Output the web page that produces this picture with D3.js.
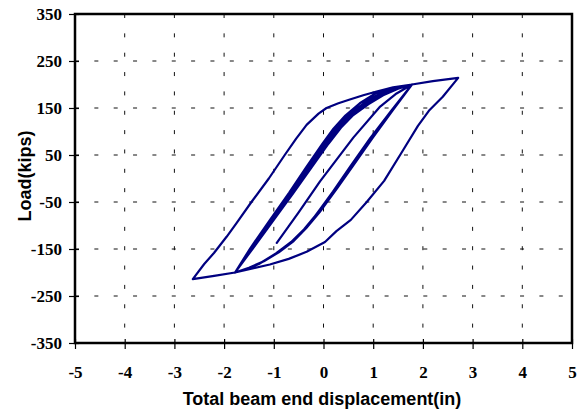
<!DOCTYPE html>
<html>
<head>
<meta charset="utf-8">
<script src="https://cdn.jsdelivr.net/npm/d3@7"></script>
<style>
  html, body { margin: 0; padding: 0; background: #fff; }
  svg { display: block; }
  .tick-label { font-family: 'Liberation Serif', 'Times New Roman', serif; font-weight: bold; font-size: 17px; fill: #000; }
  .axis-title { font-family: 'Liberation Sans', Arial, sans-serif; font-weight: bold; font-size: 18px; fill: #000; }
</style>
</head>
<body>
<svg id="chart" width="583" height="412"></svg>
<script>
// Axis ticks
const xTicks = [-5, -4, -3, -2, -1, 0, 1, 2, 3, 4, 5];
const yTicks = [-350, -250, -150, -50, 50, 150, 250, 350];

// Load–displacement record, [displacement (in), load (kips)]
// Three cycles at about ±1.8 in
const cycle1Load = [[-1.78,-200],[-1.4,-146],[-1.0,-88],[-0.6,-30],[-0.25,22],[0.1,74],[0.35,108],[0.6,135],[0.9,158],[1.2,177],[1.5,191],[1.78,200]];
const cycle1Unload = [[1.78,200],[1.4,146],[1.0,88],[0.6,28],[0.28,-20],[-0.08,-72],[-0.35,-106],[-0.6,-133],[-0.9,-157],[-1.2,-176],[-1.5,-190],[-1.78,-200]];
const cycle2Load = [[-1.78,-200],[-1.44,-146],[-1.05,-88],[-0.65,-30],[-0.31,22],[0.03,74],[0.27,108],[0.51,136],[0.81,160],[1.12,180],[1.45,193],[1.78,200]];
const cycle2Unload = [[1.78,200],[1.38,144],[0.97,86],[0.56,26],[0.23,-23],[-0.11,-72],[-0.39,-108],[-0.65,-135],[-0.96,-160],[-1.26,-179],[-1.52,-192],[-1.78,-200]];
const cycle3Load = [[-1.78,-200],[-1.47,-148],[-1.09,-90],[-0.69,-30],[-0.36,22],[-0.02,74],[0.2,106],[0.44,134],[0.73,160],[1.06,182],[1.42,194],[1.78,200]];
const cycle3Unload = [[1.78,200],[1.36,144],[0.94,86],[0.54,26],[0.19,-28],[-0.06,-64],[-0.31,-100],[-0.6,-131],[-0.95,-159],[-1.3,-182],[-1.55,-193],[-1.78,-200]];
// Large cycle to about ±2.7 in
const bigCycle = [[-1.78,-200],[-2.2,-207],[-2.63,-214],[-2.4,-182],[-2.2,-158],[-1.95,-124],[-1.75,-95],[-1.45,-50],[-1.1,0],[-0.78,50],[-0.55,85],[-0.34,114],[-0.1,138],[0.06,150],[0.3,160],[0.53,168],[0.8,177],[1.07,185],[1.4,194],[1.78,200],[2.2,207],[2.71,214],[2.4,174],[2.12,144],[1.9,112],[1.6,60],[1.22,-5],[0.87,-50],[0.55,-88],[0.26,-112],[0.03,-135],[-0.34,-156],[-0.7,-171],[-1.08,-183],[-1.45,-192],[-1.78,-200]];
// Last reload and unload
const finalLoad = [[-1.78,-200],[-1.42,-147],[-1.02,-89],[-0.62,-30],[-0.27,22],[0.07,74],[0.31,108],[0.56,136],[0.86,159],[1.16,178],[1.48,192],[1.78,200]];
const finalUnload = [[1.78,200],[1.47,181],[1.14,153],[0.6,87],[-0.07,-6],[-0.5,-72],[-0.94,-137]];

const record = [].concat(cycle1Load, cycle1Unload, cycle2Load, cycle2Unload,
  cycle3Load, cycle3Unload, bigCycle, finalLoad, finalUnload);

const svg = d3.select('#chart');
const plot = { left: 75, right: 572, top: 14, bottom: 343 };

const x = d3.scaleLinear().domain([-5, 5]).range([plot.left, plot.right]);
const y = d3.scaleLinear().domain([-350, 350]).range([plot.bottom, plot.top]);

svg.append('rect').attr('width', 583).attr('height', 412).attr('fill', '#fff');

// Dashed grid
const grid = svg.append('g').attr('stroke', '#111').attr('stroke-width', 1);
grid.selectAll('line.v').data(xTicks.slice(1, -1)).join('line')
  .attr('class', 'v')
  .attr('x1', d => x(d)).attr('x2', d => x(d))
  .attr('y1', plot.top).attr('y2', plot.bottom)
  .attr('stroke-dasharray', '4,15.35');
grid.selectAll('line.h').data(yTicks.slice(1, -1)).join('line')
  .attr('class', 'h')
  .attr('y1', d => y(d)).attr('y2', d => y(d))
  .attr('x1', plot.left).attr('x2', plot.right)
  .attr('stroke-dasharray', '4,15.35');

// Axes (plain hyphen for negative numbers)
const fmt = d => String(d);
const xAxis = svg.append('g')
  .attr('transform', `translate(0,${plot.bottom})`)
  .call(d3.axisBottom(x).tickValues(xTicks).tickFormat(fmt).tickSize(6).tickSizeOuter(0).tickPadding(17));
const yAxis = svg.append('g')
  .attr('transform', `translate(${plot.left},0)`)
  .call(d3.axisLeft(y).tickValues(yTicks).tickFormat(fmt).tickSize(6).tickSizeOuter(0).tickPadding(7));

[xAxis, yAxis].forEach(g => {
  g.attr('font-family', null).attr('font-size', null);
  g.select('.domain').remove();
  g.selectAll('.tick line').attr('stroke', '#000').attr('stroke-width', 1.2);
  g.selectAll('.tick text').attr('fill', null).attr('class', 'tick-label');
});
xAxis.selectAll('.tick line').attr('y1', -4).attr('y2', 6);
yAxis.selectAll('.tick line').attr('x1', 4).attr('x2', -6);

// Plot frame
svg.append('rect')
  .attr('x', plot.left).attr('y', plot.top)
  .attr('width', plot.right - plot.left).attr('height', plot.bottom - plot.top)
  .attr('fill', 'none').attr('stroke', '#000').attr('stroke-width', 2.5);

// Hysteresis curve
const line = d3.line().x(d => x(d[0])).y(d => y(d[1]));
svg.append('path')
  .datum(record)
  .attr('d', line)
  .attr('fill', 'none')
  .attr('stroke', '#000080')
  .attr('stroke-width', 2.2)
  .attr('stroke-linejoin', 'round')
  .attr('stroke-linecap', 'round');

// Axis titles
svg.append('text')
  .attr('class', 'axis-title')
  .attr('x', 322).attr('y', 405)
  .attr('text-anchor', 'middle')
  .text('Total beam end displacement(in)');
svg.append('text')
  .attr('class', 'axis-title')
  .attr('transform', 'translate(31,176) rotate(-90)')
  .attr('text-anchor', 'middle')
  .text('Load(kips)');
</script>
</body>
</html>
